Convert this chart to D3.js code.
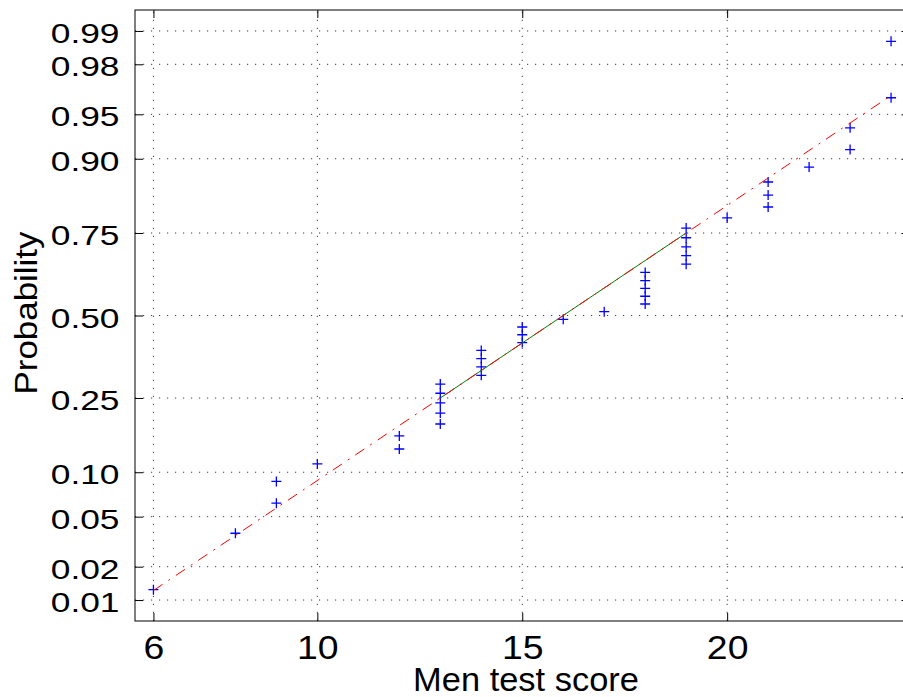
<!DOCTYPE html>
<html>
<head>
<meta charset="utf-8">
<script src="https://cdn.jsdelivr.net/npm/d3@7"></script>
<style>
  html, body { margin: 0; padding: 0; background: #fff; overflow: hidden; }
  text { font-family: "Liberation Sans", Arial, Helvetica, sans-serif; fill: #000; }
</style>
</head>
<body>
<svg id="chart" width="903" height="697"></svg>
<script>
// Men's test scores (sorted sample, n = 40)
const scores = [6, 8, 9, 9, 10, 12, 12, 13, 13, 13, 13, 13, 14, 14, 14, 14, 15, 15, 15,
                16, 17, 18, 18, 18, 18, 18, 19, 19, 19, 19, 19, 20, 21, 21, 21, 22, 23, 23, 24, 24];

// Axis ticks
const xTicks = [6, 10, 15, 20];
const xTickLabels = ["6", "10", "15", "20"];
const yTicks = [0.01, 0.02, 0.05, 0.10, 0.25, 0.50, 0.75, 0.90, 0.95, 0.98, 0.99];
const yTickLabels = ["0.01", "0.02", "0.05", "0.10", "0.25", "0.50", "0.75", "0.90", "0.95", "0.98", "0.99"];

const xTitle = "Men test score";
const yTitle = "Probability";

// Inverse standard normal CDF (Acklam's rational approximation), used for the probability axis
function probit(p) {
  const a = [-3.969683028665376e+01, 2.209460984245205e+02, -2.759285104469687e+02,
             1.383577518672690e+02, -3.066479806614716e+01, 2.506628277459239e+00];
  const b = [-5.447609879822406e+01, 1.615858368580409e+02, -1.556989798598866e+02,
             6.680131188771972e+01, -1.328068155288572e+01];
  const c = [-7.784894002430293e-03, -3.223964580411365e-01, -2.400758277161838e+00,
             -2.549732539343734e+00, 4.374664141464968e+00, 2.938163982698783e+00];
  const d = [7.784695709041462e-03, 3.224671290700398e-01, 2.445134137142996e+00,
             3.754408661907416e+00];
  const pl = 0.02425, ph = 1 - pl;
  let q, r;
  if (p < pl) {
    q = Math.sqrt(-2 * Math.log(p));
    return (((((c[0]*q+c[1])*q+c[2])*q+c[3])*q+c[4])*q+c[5]) / ((((d[0]*q+d[1])*q+d[2])*q+d[3])*q+1);
  }
  if (p > ph) {
    q = Math.sqrt(-2 * Math.log(1 - p));
    return -(((((c[0]*q+c[1])*q+c[2])*q+c[3])*q+c[4])*q+c[5]) / ((((d[0]*q+d[1])*q+d[2])*q+d[3])*q+1);
  }
  q = p - 0.5; r = q * q;
  return (((((a[0]*r+a[1])*r+a[2])*r+a[3])*r+a[4])*r+a[5])*q / (((((b[0]*r+b[1])*r+b[2])*r+b[3])*r+b[4])*r+1);
}

const box = { left: 135, top: 10, right: 909.5, bottom: 621 };
const n = scores.length;
const sorted = scores.slice().sort(d3.ascending);

// Normal probability plotting positions (i - 0.5) / n
const points = sorted.map((v, i) => ({ x: v, p: (i + 0.5) / n }));

const xMin = d3.min(sorted), xMax = d3.max(sorted);
const xPad = 0.025 * (xMax - xMin);
const x = d3.scaleLinear().domain([xMin - xPad, xMax + xPad]).range([box.left, box.right]);
const zLim = probit(1 - 0.25 / n);
const y = d3.scaleLinear().domain([-zLim, zLim]).range([box.bottom, box.top]);

// Reference line through the first and third quartiles
const q1 = d3.quantile(sorted, 0.25), q3 = d3.quantile(sorted, 0.75);
const z1 = probit(0.25), z3 = probit(0.75);
const slope = (z3 - z1) / (q3 - q1);
const zAt = v => z1 + (v - q1) * slope;

const svg = d3.select("#chart");
svg.append("rect").attr("width", 903).attr("height", 697).attr("fill", "#fff");

// Dotted grid
const grid = svg.append("g").attr("stroke", "#3a3a3a").attr("stroke-width", 1)
  .attr("stroke-dasharray", "1.2,6.8").attr("fill", "none");
grid.selectAll(".gy").data(yTicks).join("line")
  .attr("x1", box.left).attr("x2", box.right)
  .attr("y1", d => y(probit(d))).attr("y2", d => y(probit(d)));
grid.selectAll(".gx").data(xTicks).join("line")
  .attr("x1", d => x(d)).attr("x2", d => x(d))
  .attr("y1", box.bottom).attr("y2", box.top);

// Tick marks pointing inward on all four sides
const tickLen = 8;
const yTickZ = yTicks.map(probit);
function styleAxis(g) {
  g.select(".domain").remove();
  g.selectAll(".tick line").attr("stroke", "#000").attr("stroke-width", 1);
  g.selectAll(".tick text").remove();
}
svg.append("g").attr("transform", `translate(${box.left},0)`)
  .call(d3.axisLeft(y).tickValues(yTickZ).tickSize(-tickLen)).call(styleAxis);
svg.append("g").attr("transform", `translate(${box.right},0)`)
  .call(d3.axisRight(y).tickValues(yTickZ).tickSize(-tickLen)).call(styleAxis);
svg.append("g").attr("transform", `translate(0,${box.bottom})`)
  .call(d3.axisBottom(x).tickValues(xTicks).tickSize(-tickLen)).call(styleAxis);
svg.append("g").attr("transform", `translate(0,${box.top})`)
  .call(d3.axisTop(x).tickValues(xTicks).tickSize(-tickLen)).call(styleAxis);

// Data markers
svg.append("g").selectAll("path").data(points).join("path")
  .attr("transform", d => `translate(${x(d.x)},${y(probit(d.p))})`)
  .attr("d", "M-5,0H5M0,-5V5")
  .attr("stroke", "#0000ff").attr("stroke-width", 1.3).attr("fill", "none");

// Solid segment between the quartiles
svg.append("line")
  .attr("x1", x(q1)).attr("y1", y(zAt(q1)))
  .attr("x2", x(q3)).attr("y2", y(zAt(q3)))
  .attr("stroke", "rgb(0,128,0)").attr("stroke-width", 1);

// Dash-dot extension over the data range
svg.append("line")
  .attr("x1", x(xMin)).attr("y1", y(zAt(xMin)))
  .attr("x2", x(xMax)).attr("y2", y(zAt(xMax)))
  .attr("stroke", "#ff0000").attr("stroke-width", 1)
  .attr("stroke-dasharray", "11,7,2,7");

// Axes box
svg.append("rect")
  .attr("x", box.left).attr("y", box.top)
  .attr("width", box.right - box.left).attr("height", box.bottom - box.top)
  .attr("fill", "none").attr("stroke", "#000").attr("stroke-width", 1);

// Tick labels
svg.append("g").selectAll("text").data(yTicks).join("text")
  .attr("transform", d => `translate(119.5,${y(probit(d)) + 12}) scale(1.24,1)`)
  .attr("text-anchor", "end")
  .attr("font-size", 28.5)
  .text((d, i) => yTickLabels[i]);

svg.append("g").selectAll("text").data(xTicks).join("text")
  .attr("transform", d => `translate(${x(d) + 0.5},659) scale(1.15,1)`)
  .attr("text-anchor", "middle")
  .attr("font-size", 32.5)
  .text((d, i) => xTickLabels[i]);

// Axis titles
svg.append("text")
  .attr("transform", "translate(526,691) scale(1.06,1)")
  .attr("text-anchor", "middle")
  .attr("font-size", 32.5)
  .text(xTitle);

svg.append("text")
  .attr("transform", "translate(36.5,313) rotate(-90) scale(1.1,1)")
  .attr("text-anchor", "middle")
  .attr("font-size", 31.7)
  .text(yTitle);
</script>
</body>
</html>
